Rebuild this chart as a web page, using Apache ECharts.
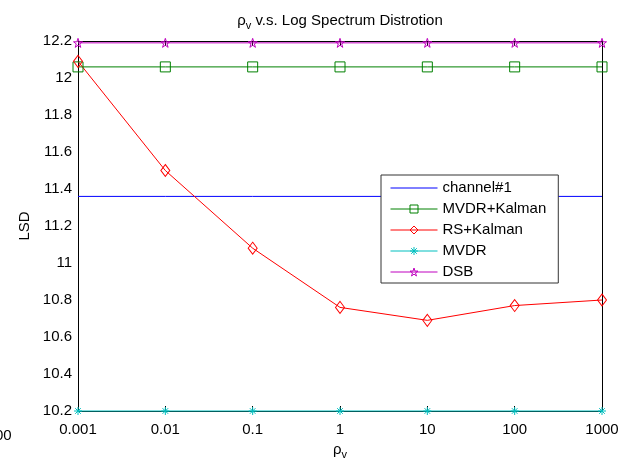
<!DOCTYPE html>
<html>
<head>
<meta charset="utf-8">
<script src="https://cdn.jsdelivr.net/npm/echarts@6/dist/echarts.min.js"></script>
<style>html,body{margin:0;padding:0;background:#fff;}#c{width:625px;height:465px;}</style>
</head>
<body>
<div id="c"></div>
<script>
var categories = ['0.001', '0.01', '0.1', '1', '10', '100', '1000'];
var channel1 = [11.36, 11.36, 11.36, 11.36, 11.36, 11.36, 11.36];
var mvdrKalman = [12.06, 12.06, 12.06, 12.06, 12.06, 12.06, 12.06];
var rsKalman = [12.09, 11.50, 11.08, 10.76, 10.69, 10.77, 10.80];
var mvdr = [10.2, 10.2, 10.2, 10.2, 10.2, 10.2, 10.2];
var dsb = [12.19, 12.19, 12.19, 12.19, 12.19, 12.19, 12.19];
var yMin = 10.2, yMax = 12.2, yStep = 0.2;

var FONT = '"Liberation Sans", Arial, sans-serif';
var ASTERISK = 'path://M0,-100L0,100M-100,0L100,0M-70,-70L70,70M-70,70L70,-70';
var STAR = 'path://M0,-100L22.45,-30.9L95.1,-30.9L36.3,11.8L58.8,80.9L0,38.2L-58.8,80.9L-36.3,11.8L-95.1,-30.9L-22.45,-30.9Z';

var chart = echarts.init(document.getElementById('c'), null, {renderer: 'canvas'});
var tickStyle = {inside: true, length: 5, lineStyle: {color: '#000', width: 1}};
var lineAx = {show: true, lineStyle: {color: '#000', width: 1}};
function mk(name, data, color, symbol, size, hideMarker) {
  return {
    name: name, type: 'line', data: data, clip: false,
    symbol: symbol, symbolSize: size, showSymbol: !hideMarker,
    lineStyle: {color: color, width: 1},
    itemStyle: {color: 'rgba(255,255,255,0)', borderColor: hideMarker ? 'rgba(0,0,0,0)' : color, borderWidth: 1},
    emphasis: {disabled: true}, animation: false
  };
}
chart.setOption({
  animation: false,
  backgroundColor: '#fff',
  grid: {left: 78, right: 23, top: 41, bottom: 48.5, containLabel: false},
  graphic: [
    {type: 'text', x: 340, y: 21, style: {
      text: '{a|ρ}{b|v}{a| v.s. Log Spectrum Distrotion}',
      align: 'center', verticalAlign: 'middle',
      rich: {a: {fontSize: 15, fontFamily: FONT, color: '#000'},
             b: {fontSize: 11, fontFamily: FONT, color: '#000', padding: [9, 0, 0, 0]}}
    }},
    {type: 'text', x: -5, y: 436, style: {text: '00', fontSize: 15, fontFamily: FONT, fill: '#000', verticalAlign: 'middle'}}
  ],
  legend: {
    orient: 'vertical', left: 381, top: 175,
    padding: [5.5, 12, 3.5, 9], itemGap: 6, itemWidth: 47, itemHeight: 10,
    backgroundColor: '#fff', borderColor: '#333', borderWidth: 1,
    textStyle: {fontSize: 15, fontFamily: FONT, color: '#000'},
    lineStyle: {width: 1},
    itemStyle: {borderWidth: 1},
    selectedMode: false,
    data: ['channel#1', 'MVDR+Kalman', 'RS+Kalman', 'MVDR', 'DSB']
  },
  xAxis: [
    {type: 'category', data: categories, boundaryGap: false, position: 'bottom',
     axisLine: lineAx, axisTick: tickStyle,
     axisLabel: {fontSize: 15, fontFamily: FONT, color: '#000', margin: 11},
     splitLine: {show: false},
     name: '{a|ρ}{b|v}', nameLocation: 'middle', nameGap: 29,
     nameTextStyle: {rich: {a: {fontSize: 15, fontFamily: FONT, color: '#000'},
                            b: {fontSize: 11, fontFamily: FONT, color: '#000', padding: [9, 0, 0, 0]}}}},
    {type: 'category', data: categories, boundaryGap: false, position: 'top',
     axisLine: lineAx, axisTick: tickStyle, axisLabel: {show: false}, splitLine: {show: false}}
  ],
  yAxis: [
    {type: 'value', min: yMin, max: yMax, interval: yStep, position: 'left',
     axisLine: lineAx, axisTick: tickStyle,
     axisLabel: {fontSize: 15, fontFamily: FONT, color: '#000', margin: 6},
     splitLine: {show: false},
     name: 'LSD', nameLocation: 'middle', nameGap: 45, nameRotate: 90,
     nameTextStyle: {fontSize: 15, fontFamily: FONT, color: '#000'}},
    {type: 'value', min: yMin, max: yMax, interval: yStep, position: 'right',
     axisLine: lineAx, axisTick: tickStyle, axisLabel: {show: false}, splitLine: {show: false}}
  ],
  series: [
    mk('channel#1', channel1, '#0000ff', 'circle', 1, true),
    mk('MVDR+Kalman', mvdrKalman, '#008000', 'rect', 10),
    mk('RS+Kalman', rsKalman, '#ff0000', 'diamond', [9, 12]),
    mk('MVDR', mvdr, '#00bfbf', ASTERISK, 8),
    mk('DSB', dsb, '#bf00bf', STAR, 9)
  ]
});
</script>
</body>
</html>
